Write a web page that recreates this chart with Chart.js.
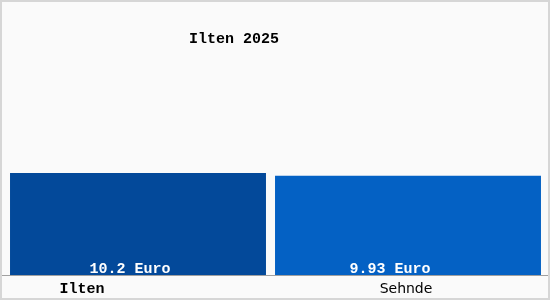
<!DOCTYPE html>
<html lang="de">
<head>
  <meta charset="UTF-8" />
  <title>Ilten 2025</title>
  <script src="https://cdn.jsdelivr.net/npm/chart.js"></script>
  <style>
    html, body { margin: 0; padding: 0; background: #fafafa; }
    #wrap { width: 550px; height: 300px; }
  </style>
</head>
<body>
  <div id="wrap"><canvas id="chart" width="550" height="300"></canvas></div>
  <script>
    const places = ["Ilten", "Sehnde"];
    const prices = [10.2, 9.93];
    const valueLabels = ["10.2 Euro", "9.93 Euro"];
    const barColors = ["#03499a", "#0461c4"];
    const chartTitle = "Ilten 2025";

    const mono = "'Liberation Mono', 'Courier New', monospace";
    const sans = "'DejaVu Sans', Verdana, sans-serif";

    // frame, baseline, title, value and category labels
    const decor = {
      id: "decor",
      beforeDraw(chart) {
        const c = chart.ctx;
        c.save();
        c.fillStyle = "#fafafa";
        c.fillRect(0, 0, chart.width, chart.height);
        c.restore();
      },
      afterDatasetsDraw(chart) {
        const c = chart.ctx;
        const area = chart.chartArea;
        c.save();
        c.strokeStyle = "#d6d6d6";
        c.lineWidth = 2;
        c.strokeRect(1, 1, chart.width - 2, chart.height - 2);

        c.strokeStyle = "#a0a0a0";
        c.lineWidth = 1;
        c.beginPath();
        c.moveTo(2, area.bottom + 0.5);
        c.lineTo(chart.width - 2, area.bottom + 0.5);
        c.stroke();

        c.fillStyle = "#000";
        c.font = "bold 15px " + mono;
        c.textAlign = "center";
        c.textBaseline = "alphabetic";
        c.fillText(chartTitle, 234, 43);

        const shifts = [-8, -18];
        const xScale = chart.scales.x;
        places.forEach((p, i) => {
          const bar = chart.getDatasetMeta(i).data[i];
          c.fillStyle = "#fff";
          c.font = "bold 15px " + mono;
          c.fillText(valueLabels[i], bar.x + shifts[i], area.bottom - 2);

          c.fillStyle = "#000";
          const x = xScale.getPixelForValue(i);
          if (i === 0) {
            c.font = "bold 15px " + mono;
            c.fillText(p, x - 56, 293);
          } else {
            c.font = "14px " + sans;
            c.fillText(p, x - 2, 293);
          }
        });
        c.restore();
      }
    };

    new Chart(document.getElementById("chart"), {
      type: "bar",
      data: {
        labels: places,
        datasets: [
          {
            data: [prices[0], null],
            backgroundColor: barColors[0],
            barPercentage: 0.948,
            categoryPercentage: 1
          },
          {
            data: [null, prices[1]],
            backgroundColor: barColors[1],
            barPercentage: 0.985,
            categoryPercentage: 1
          }
        ]
      },
      options: {
        responsive: false,
        animation: false,
        layout: { padding: { left: 3, right: 7, top: 35, bottom: 25 } },
        scales: {
          x: { display: false, grouped: false },
          y: { display: false, min: 0, max: 24 }
        },
        datasets: { bar: { grouped: false } },
        plugins: {
          legend: { display: false },
          tooltip: { enabled: false }
        }
      },
      plugins: [decor]
    });
  </script>
</body>
</html>
